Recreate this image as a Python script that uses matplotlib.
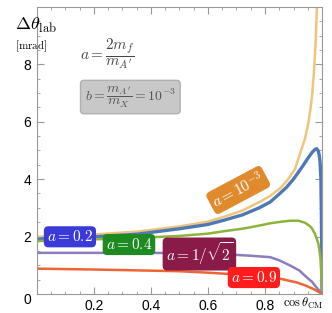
import matplotlib
matplotlib.use("Agg")
import matplotlib.pyplot as plt
from matplotlib.ticker import MultipleLocator

plt.rcParams['mathtext.fontset'] = 'cm'
plt.rcParams['font.family'] = ['Liberation Sans', 'DejaVu Sans']

# values
x_a1e3 = [0, 0.2, 0.35, 0.5, 0.6, 0.66, 0.72, 0.78, 0.818, 0.853, 0.88, 0.905,
          0.925, 0.94, 0.952, 0.96, 0.966, 0.971, 0.975, 0.978, 0.982, 0.985]
y_a1e3 = [1.99, 2.07, 2.17, 2.35, 2.52, 2.70, 2.90, 3.2, 3.41, 3.68, 3.98, 4.35,
          4.95, 5.4, 5.95, 6.48, 7.0, 7.66, 8.3, 8.84, 10.0, 11.0]

x_a02 = [0, 0.2, 0.35, 0.5, 0.6, 0.66, 0.72, 0.78, 0.818, 0.85, 0.876, 0.9,
         0.92, 0.934, 0.95, 0.965, 0.975, 0.981, 0.986, 0.99, 0.993, 0.996, 0.998, 1.0]
y_a02 = [1.91, 1.99, 2.08, 2.27, 2.42, 2.58, 2.75, 3.0, 3.2, 3.48, 3.72, 4.0,
         4.28, 4.48, 4.72, 4.93, 5.03, 5.06, 5.0, 4.85, 4.6, 4.0, 2.5, 0]

x_a04 = [0, 0.2, 0.35, 0.5, 0.6, 0.66, 0.72, 0.78, 0.818, 0.86, 0.89, 0.917,
         0.94, 0.955, 0.964, 0.975, 0.987, 0.992, 0.995, 0.998, 1.0]
y_a04 = [1.84, 1.9, 1.95, 2.02, 2.1, 2.19, 2.27, 2.38, 2.46, 2.52, 2.55, 2.55,
         2.48, 2.38, 2.29, 2.1, 1.76, 1.45, 1.17, 0.6, 0]

x_asq = [0, 0.2, 0.4, 0.5, 0.6, 0.68, 0.75, 0.818, 0.85, 0.888, 0.92, 0.946,
         0.965, 0.981, 0.992, 1.0]
y_asq = [1.43, 1.43, 1.43, 1.42, 1.40, 1.37, 1.33, 1.28, 1.17, 0.99, 0.82, 0.58,
         0.42, 0.22, 0.1, 0]

x_a09 = [0, 0.2, 0.4, 0.5, 0.6, 0.7, 0.78, 0.853, 0.911, 0.94, 0.97, 0.985, 1.0]
y_a09 = [0.88, 0.85, 0.81, 0.79, 0.74, 0.68, 0.6, 0.53, 0.40, 0.3, 0.17, 0.09, 0]

xticks = [0.2, 0.4, 0.6, 0.8]
yticks = [2, 4, 6, 8]

fig = plt.figure(figsize=(3.32, 3.13), dpi=100)
ax = fig.add_axes([0.111, 0.061, 0.859, 0.917])

ax.plot(x_a1e3, y_a1e3, color='#F0C57A', lw=1.8)
ax.plot(x_a02, y_a02, color='#4F79B5', lw=2.4)
ax.plot(x_a04, y_a04, color='#8DB43A', lw=1.8)
ax.plot(x_asq, y_asq, color='#8C7CC0', lw=1.8)
ax.plot(x_a09, y_a09, color='#EE6433', lw=1.8)

ax.set_xlim(0, 1)
ax.set_ylim(0, 10)
ax.set_xticks(xticks)
ax.set_yticks(yticks)
ax.xaxis.set_minor_locator(MultipleLocator(0.05))
ax.yaxis.set_minor_locator(MultipleLocator(0.5))
ax.tick_params(which='both', direction='in', top=True, right=True,
               color='#999999', labelsize=10, pad=4)
ax.tick_params(which='major', length=5, width=0.8)
ax.tick_params(which='minor', length=2.5, width=0.6)
for s in ax.spines.values():
    s.set_color('#999999')
    s.set_linewidth(0.8)

# boxed curve labels
def tag(x, y, txt, col, rot=0):
    ax.text(x, y, txt, color='white', fontsize=11, ha='center', va='center',
            rotation=rot, zorder=5,
            bbox=dict(boxstyle='round,pad=0.2,rounding_size=0.3', fc=col, ec='none'))

tag(0.116, 1.99, r'$a=0.2$', '#3A3AD8')
tag(0.323, 1.72, r'$a=0.4$', '#1E8A22')
tag(0.570, 1.39, r'$a=1/\sqrt{2}$', '#8A1A48')
tag(0.761, 0.57, r'$a=0.9$', '#FF1C1C')
tag(0.706, 3.62, r'$a=10^{-3}$', '#E08A2E', rot=28)

# axis labels and formulas
fig.text(0.045, 0.918, r'$\Delta\theta_{\rm lab}$', fontsize=13, ha='left', va='center')
fig.text(0.045, 0.853, r'$[\rm mrad]$', fontsize=8, ha='left', va='center')
fig.text(0.241, 0.827, r'$a=\dfrac{2m_f}{m_{A^\prime}}$', fontsize=11, color='#444444',
         ha='left', va='center')
fig.text(0.255, 0.69, r'$b=\dfrac{m_{A^\prime}}{m_X}=10^{-3}$', fontsize=10,
         color='#555555', ha='left', va='center',
         bbox=dict(boxstyle='round,pad=0.3,rounding_size=0.25', fc='#C8C8C8', ec='#B0B0B0'))
fig.text(0.913, 0.029, r'$\cos\theta_{\rm CM}$', fontsize=9, ha='center', va='center')
fig.text(0.082, 0.042, '0', fontsize=10, ha='center', va='center')

fig.savefig('out.png', dpi=100)
